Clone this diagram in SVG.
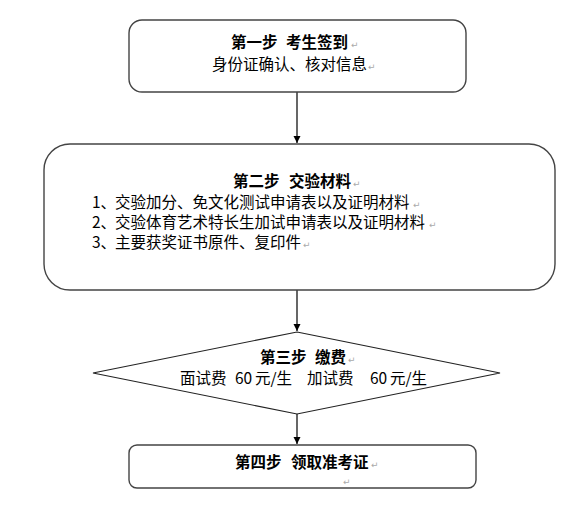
<svg xmlns="http://www.w3.org/2000/svg" width="584" height="508" viewBox="0 0 584 508">
<defs>
<style>
.box{fill:#fff;stroke:#444;stroke-width:1.4}
.t{font-family:"Noto Sans CJK SC","Liberation Sans",sans-serif;font-size:15.5px;fill:#000}
.b{font-weight:bold}
.pm{font-family:"DejaVu Sans",sans-serif;font-size:9px;fill:#aaa}
.c{stroke:#000;stroke-width:1.2;fill:none}
</style>
<marker id="ah" markerWidth="8" markerHeight="8" refX="7" refY="4" orient="auto" markerUnits="userSpaceOnUse">
<path d="M0,0.5 L7,4 L0,7.5 Z" fill="#000"/>
</marker>
</defs>
<rect width="584" height="508" fill="#fff"/>
<g id="connectors">
<line class="c" x1="297" y1="92" x2="297" y2="143" marker-end="url(#ah)"/>
<line class="c" x1="297" y1="290" x2="297" y2="331" marker-end="url(#ah)"/>
<line class="c" x1="297" y1="414" x2="297" y2="444" marker-end="url(#ah)"/>
</g>
<g id="step1">
<rect class="box" x="129" y="20" width="337" height="72" rx="13"/>
<text class="t b" y="48"><tspan x="231">第一步</tspan><tspan x="286">考生签到</tspan></text>
<text class="pm" x="351" y="48">↵</text>
<text class="t" x="212" y="70">身份证确认、核对信息</text>
<text class="pm" x="368" y="70">↵</text>
</g>
<g id="step2">
<rect class="box" x="44" y="144" width="511" height="146" rx="26"/>
<text class="t b" y="187"><tspan x="233">第二步</tspan><tspan x="289">交验材料</tspan></text>
<text class="pm" x="353" y="187">↵</text>
<text class="t" y="208"><tspan x="92">1、</tspan><tspan x="115">交验加分、免文化测试申请表以及证明材料</tspan></text>
<text class="pm" x="413" y="208">↵</text>
<text class="t" y="228"><tspan x="92">2、</tspan><tspan x="115">交验体育艺术特长生加试申请表以及证明材料</tspan></text>
<text class="pm" x="429" y="228">↵</text>
<text class="t" y="248"><tspan x="92">3、</tspan><tspan x="115">主要获奖证书原件、复印件</tspan></text>
<text class="pm" x="303" y="248">↵</text>
</g>
<g id="step3">
<polygon points="297,332 500,373 297,414 93,373" fill="#fff" stroke="#222" stroke-width="1.2"/>
<text class="t b" y="363"><tspan x="260">第三步</tspan><tspan x="315">缴费</tspan></text>
<text class="pm" x="348" y="363">↵</text>
<text class="t" y="384"><tspan x="180">面试费</tspan><tspan x="235">60</tspan><tspan x="255">元/生</tspan><tspan x="307">加试费</tspan><tspan x="370">60</tspan><tspan x="390">元/生</tspan></text>
</g>
<g id="step4">
<rect class="box" x="129" y="445" width="347" height="43" rx="8" stroke="#666"/>
<text class="t b" y="468"><tspan x="235">第四步</tspan><tspan x="291">领取准考证</tspan></text>
<text class="pm" x="371" y="468">↵</text>
<text class="pm" x="343" y="485">↵</text>
</g>
</svg>
